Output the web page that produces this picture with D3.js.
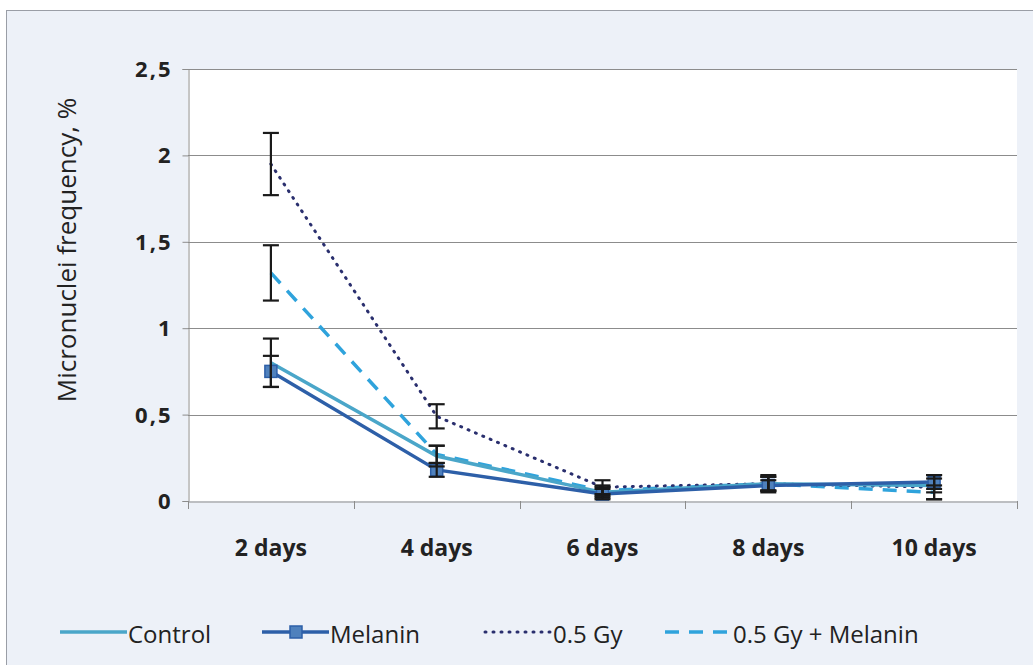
<!DOCTYPE html>
<html><head><meta charset="utf-8">
<script src="https://cdn.jsdelivr.net/npm/d3@7"></script>
<style>body{margin:0;background:#fff}svg{display:block}</style>
</head><body>
<svg id="c" width="1033" height="665"></svg>
<script>
const categories = ["2 days","4 days","6 days","8 days","10 days"];
const control      = [0.80, 0.26, 0.05, 0.10, 0.09];
const controlErr   = [0.14, 0.06, 0.03, 0.04, 0.04];
const melanin      = [0.75, 0.18, 0.04, 0.09, 0.11];
const melaninErr   = [0.09, 0.04, 0.03, 0.03, 0.04];
const gy           = [1.95, 0.49, 0.08, 0.10, 0.08];
const gyErr        = [0.18, 0.07, 0.04, 0.05, 0.07];
const gyMel        = [1.32, 0.27, 0.06, 0.10, 0.05];
const gyMelErr     = [0.16, 0.05, 0.03, 0.04, 0.04];
const yTicks = [0, 0.5, 1, 1.5, 2, 2.5];
const seriesNames = ["Control","Melanin","0.5 Gy","0.5 Gy + Melanin"];

const svg = d3.select("#c");
const W = 1033, H = 665;
const L = 188, R = 1017, T = 69, B = 501;

svg.append("rect").attr("x",0).attr("y",0).attr("width",W).attr("height",H).attr("fill","#ffffff");
svg.append("rect").attr("x",6.5).attr("y",10.5).attr("width",W).attr("height",H)
  .attr("fill","#edf1f8").attr("stroke","#9a9ea6").attr("stroke-width",1);
svg.append("rect").attr("x",L).attr("y",T).attr("width",R-L).attr("height",B-T).attr("fill","#ffffff");

const x = d3.scaleBand().domain(categories).range([L,R]);
const y = d3.scaleLinear().domain([0,2.5]).range([B,T]);
const cx = c => x(c) + x.bandwidth()/2;
const font = "'Open Sans', 'DejaVu Sans', sans-serif";

svg.append("g").selectAll("line").data(yTicks.filter(d=>d>0)).join("line")
  .attr("x1",L).attr("x2",R).attr("y1",d=>Math.round(y(d))+0.5).attr("y2",d=>Math.round(y(d))+0.5)
  .attr("stroke","#8c8c8c").attr("stroke-width",1);

const yAxis = svg.append("g").attr("transform",`translate(${L+0.5},0)`)
  .call(d3.axisLeft(y).tickValues(yTicks).tickSize(6).tickFormat(d=>String(d).replace(".",",")));
yAxis.select(".domain").attr("stroke","#8c8c8c");
yAxis.selectAll(".tick line").attr("stroke","#8c8c8c");
yAxis.selectAll("text").attr("font-family",font).attr("font-size",22).attr("font-weight",700)
  .attr("fill","#222").attr("x",-16).attr("letter-spacing",2).attr("dy","0.34em");

const xAxis = svg.append("g").attr("transform",`translate(0,${B+0.5})`)
  .call(d3.axisBottom(x).tickSize(0).tickSizeOuter(0));
xAxis.select(".domain").attr("stroke","#8c8c8c");
xAxis.selectAll("text").attr("font-family",font).attr("font-size",23).attr("font-weight",700)
  .attr("fill","#222").attr("dy",0).attr("y",54);
const bounds = categories.map(c=>x(c)).concat([R]);
svg.append("g").selectAll("line").data(bounds).join("line")
  .attr("x1",d=>Math.round(d)+0.5).attr("x2",d=>Math.round(d)+0.5).attr("y1",B).attr("y2",B+8)
  .attr("stroke","#8c8c8c");

svg.append("text").attr("transform",`translate(76,250) rotate(-90)`)
  .attr("text-anchor","middle").attr("font-family",font).attr("font-size",26).attr("fill","#222")
  .text("Micronuclei frequency, %");

const series = [
  {name:seriesNames[0], v:control, e:controlErr, color:"#4aa6c9", w:3.5, dash:null},
  {name:seriesNames[1], v:melanin, e:melaninErr, color:"#2d5fa8", w:3.5, dash:null, marker:true},
  {name:seriesNames[2], v:gy, e:gyErr, color:"#2a2f6e", w:3, dash:"1,7", cap:"round"},
  {name:seriesNames[3], v:gyMel, e:gyMelErr, color:"#2fa3dc", w:3.5, dash:"14,10"}
];
const line = d3.line().x((d,i)=>cx(categories[i])).y(d=>y(d));

[3,2,0,1].forEach(k=>{
  const s = series[k];
  svg.append("path").datum(s.v).attr("d",line).attr("fill","none")
    .attr("stroke",s.color).attr("stroke-width",s.w)
    .attr("stroke-dasharray",s.dash).attr("stroke-linecap",s.cap||"butt");
  if (s.marker) {
    svg.append("g").selectAll("rect").data(s.v).join("rect")
      .attr("x",(d,i)=>cx(categories[i])-6).attr("y",d=>y(d)-6).attr("width",12).attr("height",12)
      .attr("fill","#4f81bd").attr("stroke","#2d5fa8").attr("stroke-width",1.5);
  }
});

series.forEach(s=>{
  const g = svg.append("g").attr("stroke","#1a1a1a").attr("stroke-width",2.2);
  s.v.forEach((d,i)=>{
    const px = cx(categories[i]);
    const y1 = y(d+s.e[i]), y2 = y(Math.max(0,d-s.e[i]));
    g.append("line").attr("x1",px).attr("x2",px).attr("y1",y1).attr("y2",y2);
    g.append("line").attr("x1",px-8).attr("x2",px+8).attr("y1",y1).attr("y2",y1);
    g.append("line").attr("x1",px-8).attr("x2",px+8).attr("y1",y2).attr("y2",y2);
  });
});

const legY = 632;
const legX = [60, 262, 485, 665];
series.forEach((s,k)=>{
  const g = svg.append("g").attr("transform",`translate(${legX[k]},${legY})`);
  g.append("line").attr("x1",0).attr("x2",67).attr("y1",0).attr("y2",0)
    .attr("stroke",s.color).attr("stroke-width",s.w).attr("stroke-dasharray",s.dash)
    .attr("stroke-linecap",s.cap||"butt");
  if (s.marker) g.append("rect").attr("x",28).attr("y",-6).attr("width",12).attr("height",12)
    .attr("fill","#4f81bd").attr("stroke","#2d5fa8").attr("stroke-width",1.5);
  g.append("text").attr("x",68).attr("y",11).attr("font-family",font).attr("font-size",24)
    .attr("fill","#222").text(s.name);
});
</script>
</body></html>
